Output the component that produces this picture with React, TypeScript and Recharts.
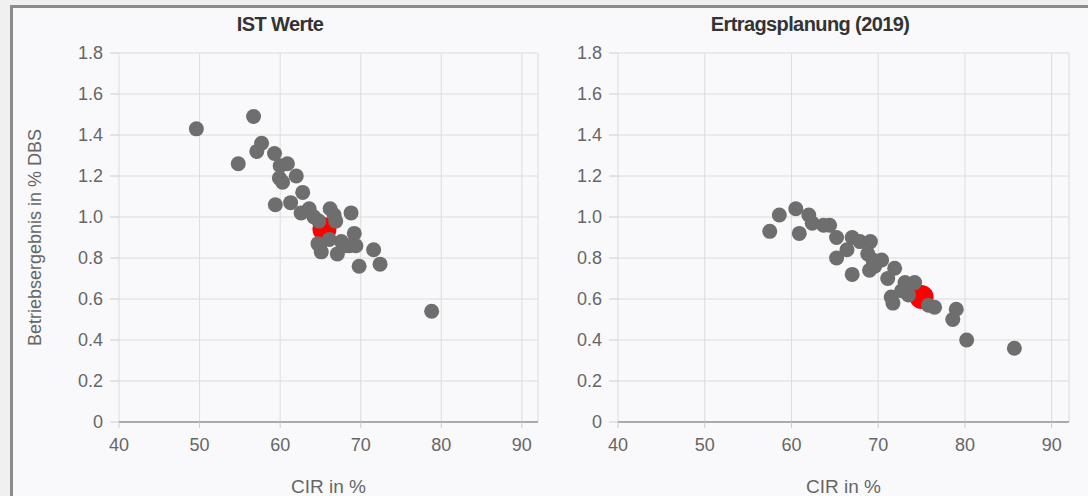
import React from "react";
import { ScatterChart, Scatter, XAxis, YAxis, CartesianGrid } from "recharts";

// IST Werte (CIR %, Betriebsergebnis %)
const istCir: number[] = [
  49.6, 56.7, 57.7, 57.1, 54.8, 59.3, 60.0, 60.9, 62.0, 59.9, 60.3, 62.8, 59.4,
  61.3, 62.6, 63.6, 64.2, 64.8, 66.2, 66.7, 66.9, 68.8, 64.9, 65.1, 67.1, 67.6,
  69.2, 68.6, 69.4, 71.6, 69.8, 72.4, 78.8, 66.1, 68.2, 64.7,
];
const istErg: number[] = [
  1.43, 1.49, 1.36, 1.32, 1.26, 1.31, 1.25, 1.26, 1.2, 1.19, 1.17, 1.12, 1.06,
  1.07, 1.02, 1.04, 1.0, 0.98, 1.04, 1.01, 0.98, 1.02, 0.86, 0.83, 0.82, 0.88,
  0.92, 0.86, 0.86, 0.84, 0.76, 0.77, 0.54, 0.89, 0.86, 0.87,
];
const istMean = { cir: 65.5, erg: 0.94 };

// Ertragsplanung (2019)
const planCir: number[] = [
  57.5, 58.6, 60.5, 60.9, 62.0, 62.4, 63.7, 64.4, 65.2, 67.0, 67.9, 69.1, 66.4,
  65.2, 67.0, 68.8, 69.4, 70.4, 69.0, 69.6, 71.9, 71.1, 73.1, 74.2, 72.7, 71.5,
  71.7, 75.8, 76.5, 79.0, 78.6, 80.2, 85.7, 73.5,
];
const planErg: number[] = [
  0.93, 1.01, 1.04, 0.92, 1.01, 0.97, 0.96, 0.96, 0.9, 0.9, 0.88, 0.88, 0.84,
  0.8, 0.72, 0.82, 0.79, 0.79, 0.74, 0.76, 0.75, 0.7, 0.68, 0.68, 0.64, 0.61,
  0.58, 0.57, 0.56, 0.55, 0.5, 0.4, 0.36, 0.62,
];
const planMean = { cir: 75.0, erg: 0.61 };

const xTicks = [40, 50, 60, 70, 80, 90];
const yTicks = [0, 0.2, 0.4, 0.6, 0.8, 1.0, 1.2, 1.4, 1.6, 1.8];

const toPoints = (xs: number[], ys: number[]) =>
  xs.map((x, i) => ({ x, y: ys[i] }));

const fmtY = (v: number) => (v === 0 ? "0" : v.toFixed(1));

const grayDot = (p: any) => <circle cx={p.cx} cy={p.cy} r={7.5} fill="#6e6e6e" />;
const redDot = (p: any) => <circle cx={p.cx} cy={p.cy} r={12} fill="#ff0000" />;

const font = "Liberation Sans, Arial, sans-serif";
const tickStyle = { fill: "#666", fontSize: 18, fontFamily: font };

type PanelProps = {
  left: number;
  width: number;
  yWidth: number;
  data: { x: number; y: number }[];
  mean: { cir: number; erg: number };
  yLabel?: string;
};

const Panel = ({ left, width, yWidth, data, mean, yLabel }: PanelProps) => (
  <div style={{ position: "absolute", left, top: 0 }}>
    <ScatterChart
      width={width}
      height={496}
      margin={{ top: 53, right: 12, left: 0, bottom: 0 }}
    >
      <CartesianGrid stroke="#dcdcdc" strokeWidth={1} />
      <XAxis
        type="number"
        dataKey="x"
        domain={[40, 92]}
        ticks={xTicks}
        allowDataOverflow
        height={74}
        tick={tickStyle}
        tickSize={6}
        tickMargin={10}
        axisLine={{ stroke: "#aaa", strokeWidth: 2 }}
        tickLine={{ stroke: "#ccc" }}
        label={{
          value: "CIR in %",
          position: "insideBottom",
          offset: 3,
          style: { fill: "#666", fontSize: 19, fontFamily: font },
        }}
      />
      <YAxis
        type="number"
        dataKey="y"
        domain={[0, 1.8]}
        ticks={yTicks}
        width={yWidth}
        tick={tickStyle}
        tickFormatter={fmtY}
        tickSize={9}
        tickMargin={7}
        axisLine={false}
        tickLine={{ stroke: "#ccc" }}
        label={
          yLabel
            ? {
                value: yLabel,
                angle: -90,
                position: "center",
                dx: -25,
                style: { fill: "#666", fontSize: 18, fontFamily: font, textAnchor: "middle" },
              }
            : undefined
        }
      />
      <Scatter data={[{ x: mean.cir, y: mean.erg }]} shape={redDot} isAnimationActive={false} />
      <Scatter data={data} shape={grayDot} isAnimationActive={false} />
    </ScatterChart>
  </div>
);

const titleStyle: React.CSSProperties = {
  position: "absolute",
  top: 13,
  fontFamily: font,
  fontWeight: "bold",
  fontSize: 20,
  letterSpacing: -0.6,
  color: "#333",
  textAlign: "center",
};

export default function App() {
  return (
    <div
      style={{
        position: "absolute",
        left: 0,
        top: 0,
        width: 1088,
        height: 496,
        background: "#f0f0f0",
        overflow: "hidden",
      }}
    >
      <div
        style={{
          position: "absolute",
          left: 10,
          top: 5,
          width: 1078,
          height: 491,
          background: "#f9f9fb",
          borderLeft: "3px solid #8c8c8c",
          borderTop: "3px solid #8c8c8c",
          boxSizing: "border-box",
        }}
      />
      <Panel left={0} width={550} yWidth={119} data={toPoints(istCir, istErg)} mean={istMean} yLabel="Betriebsergebnis in % DBS" />
      <Panel left={500} width={581} yWidth={118} data={toPoints(planCir, planErg)} mean={planMean} />
      <div style={{ ...titleStyle, left: 180, width: 200 }}>IST Werte</div>
      <div style={{ ...titleStyle, left: 660, width: 300 }}>Ertragsplanung (2019)</div>
    </div>
  );
}
